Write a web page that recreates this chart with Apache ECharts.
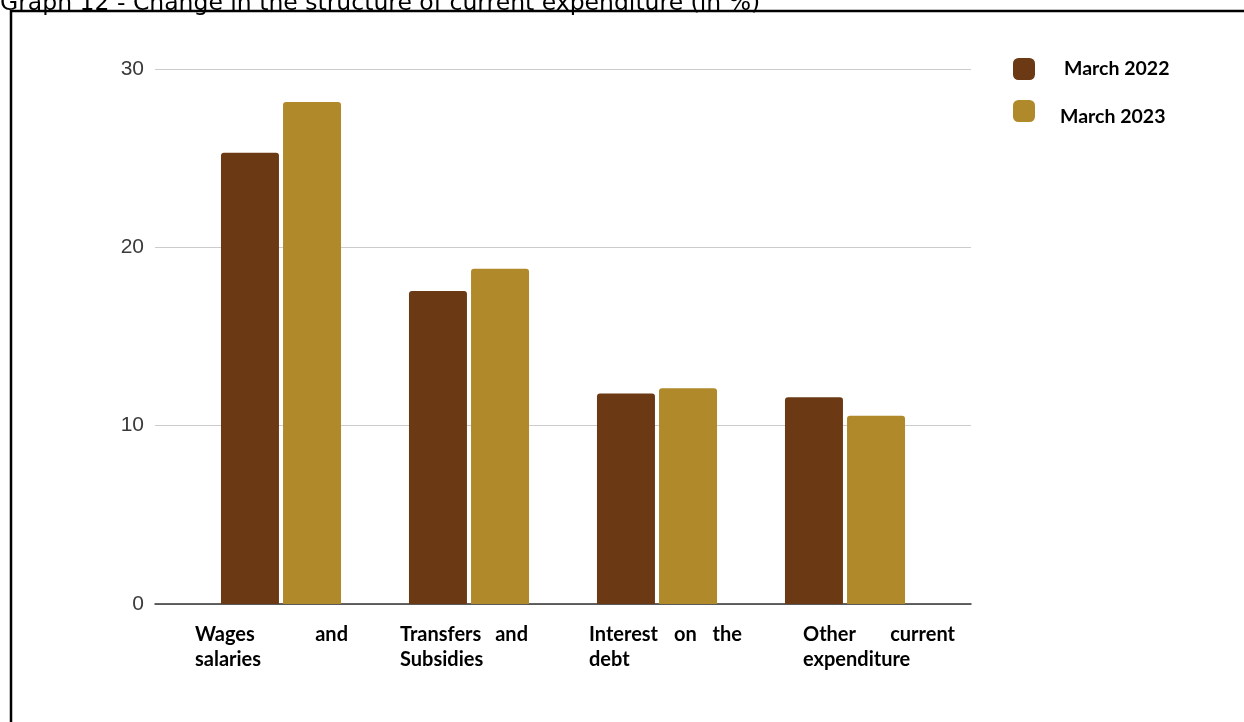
<!DOCTYPE html>
<html>
<head>
<meta charset="utf-8">
<script src="https://cdn.jsdelivr.net/npm/echarts@6/dist/echarts.min.js"></script>
<style>
  html, body { margin: 0; padding: 0; background: #fff; }
  #chart { width: 1244px; height: 722px; }
</style>
</head>
<body>
<div id="chart"></div>
<script>
// Category labels, wrapped into lines the way they are printed under the bars
const categoryLines = [
  ['Wages and', 'salaries'],
  ['Transfers and', 'Subsidies'],
  ['Interest on the', 'debt'],
  ['Other current', 'expenditure']
];
const categories = categoryLines.map(l => l.join(' '));

const seriesNames = ['March 2022', 'March 2023'];
const march2022 = [25.3, 17.55, 11.8, 11.6];
const march2023 = [28.15, 18.8, 12.1, 10.55];

const yTicks = [0, 10, 20, 30];

const titleText = 'Graph 12 - Change in the structure of current expenditure (in %)';

// Text column layout for the category labels: offset of the column's left edge
// from the category centre, and the justified column width
const labelLayout = [
  { dx: -86, w: 153 },
  { dx: -69, w: 128 },
  { dx: -68, w: 153 },
  { dx: -42, w: 152 }
];

const COLORS = ['#6b3a14', '#b0892a'];
const LABEL_FONT_SIZE = 20;
const LABEL_FONT = 'bold ' + LABEL_FONT_SIZE + 'px Lato';
const LEGEND_FONT_SIZE = 19.5;

const chart = echarts.init(document.getElementById('chart'), null, { renderer: 'canvas' });

const legendRich = (padLeft, padTop) => ({
  fontFamily: 'Lato', fontWeight: 'bold', fontSize: LEGEND_FONT_SIZE, color: '#000',
  padding: [padTop, 0, 0, padLeft]
});

const option = {
  backgroundColor: '#ffffff',
  animation: false,
  grid: [
    // frame grid: gridlines, y labels, baseline
    { left: 155, right: 273, top: 69, bottom: 118 },
    // bar grid
    { left: 187, right: 305, top: 69, bottom: 118 }
  ],
  legend: {
    orient: 'vertical',
    left: 1013,
    top: 58,
    padding: 0,
    itemWidth: 22,
    itemHeight: 22,
    itemGap: 20,
    icon: 'roundRect',
    data: seriesNames,
    formatter: name => '{' + (name === seriesNames[0] ? 'a' : 'b') + '|' + name + '}',
    textStyle: {
      fontFamily: 'Lato',
      fontWeight: 'bold',
      fontSize: LEGEND_FONT_SIZE,
      color: '#000',
      rich: {
        a: legendRich(24, 0),
        b: legendRich(20, 12)
      }
    }
  },
  xAxis: [
    {
      type: 'category',
      gridIndex: 0,
      data: [''],
      axisLine: { show: true, lineStyle: { color: '#333', width: 1.5 } },
      axisTick: { show: false },
      axisLabel: { show: false },
      splitLine: { show: false }
    },
    {
      type: 'category',
      gridIndex: 1,
      data: categories,
      axisLine: { show: false },
      axisTick: { show: false },
      axisLabel: { show: false },
      splitLine: { show: false }
    }
  ],
  yAxis: [
    {
      type: 'value',
      gridIndex: 0,
      min: yTicks[0],
      max: yTicks[yTicks.length - 1],
      interval: 10,
      axisLine: { show: false },
      axisTick: { show: false },
      axisLabel: {
        margin: 11,
        fontFamily: 'Liberation Sans',
        fontSize: 21,
        color: '#3a3a3a'
      },
      splitLine: { show: true, lineStyle: { color: '#cccccc', width: 1 } }
    },
    {
      type: 'value',
      gridIndex: 1,
      min: yTicks[0],
      max: yTicks[yTicks.length - 1],
      interval: 10,
      show: false
    }
  ],
  series: [
    {
      name: seriesNames[0],
      type: 'bar',
      xAxisIndex: 1,
      yAxisIndex: 1,
      data: march2022,
      barWidth: 58,
      barGap: '7%',
      itemStyle: { color: COLORS[0], borderRadius: [3, 3, 0, 0] }
    },
    {
      name: seriesNames[1],
      type: 'bar',
      xAxisIndex: 1,
      yAxisIndex: 1,
      data: march2023,
      barWidth: 58,
      barGap: '7%',
      itemStyle: { color: COLORS[1], borderRadius: [3, 3, 0, 0] }
    }
  ]
};

chart.setOption(option);

// Justified category labels: every line but the last is spread to the column width
const measureCtx = document.createElement('canvas').getContext('2d');
measureCtx.font = LABEL_FONT;

const graphics = [
  // outer frame
  {
    type: 'rect',
    shape: { x: 11, y: 11, width: 1400, height: 900 },
    style: { fill: null, stroke: '#000', lineWidth: 2.5 },
    silent: true
  },
  // caption above the frame, running off the top edge
  {
    type: 'text',
    x: 0,
    y: 16,
    style: {
      text: titleText,
      font: '23.5px "DejaVu Sans"',
      fill: '#000',
      verticalAlign: 'bottom'
    },
    silent: true
  }
];

const lineTop = 625;
const lineHeight = 25;

categoryLines.forEach((lines, ci) => {
  const cx = chart.convertToPixel({ xAxisIndex: 1 }, categories[ci]);
  const left = cx + labelLayout[ci].dx;
  const colW = labelLayout[ci].w;
  lines.forEach((line, li) => {
    const y = lineTop + li * lineHeight;
    const words = line.split(' ');
    const last = li === lines.length - 1;
    if (last || words.length < 2) {
      graphics.push({
        type: 'text', x: left, y: y, silent: true,
        style: { text: line, font: LABEL_FONT, fill: '#000', verticalAlign: 'top' }
      });
      return;
    }
    const widths = words.map(w => measureCtx.measureText(w).width);
    const total = widths.reduce((s, v) => s + v, 0);
    const gap = (colW - total) / (words.length - 1);
    let x = left;
    words.forEach((w, wi) => {
      graphics.push({
        type: 'text', x: x, y: y, silent: true,
        style: { text: w, font: LABEL_FONT, fill: '#000', verticalAlign: 'top' }
      });
      x += widths[wi] + gap;
    });
  });
});

chart.setOption({ graphic: graphics });
</script>
</body>
</html>
